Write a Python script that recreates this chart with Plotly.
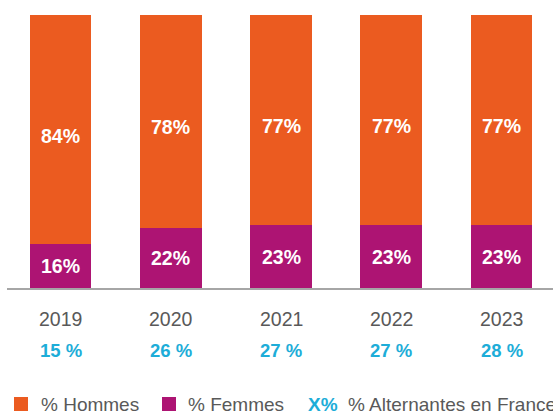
import plotly.graph_objects as go

years = ["2019", "2020", "2021", "2022", "2023"]
hommes = [84, 78, 77, 77, 77]
femmes = [16, 22, 23, 23, 23]
alternantes = [15, 26, 27, 27, 28]

ORANGE = "#EB5B20"
PURPLE = "#AD1473"
CYAN = "#1DADD8"
GRAY = "#595959"
FONT = "Liberation Sans, Arial, sans-serif"

fig = go.Figure()
fig.add_trace(go.Bar(x=years, y=femmes, marker_color=PURPLE, name="% Femmes",
                     marker_line_width=0, showlegend=False))
fig.add_trace(go.Bar(x=years, y=hommes, marker_color=ORANGE, name="% Hommes",
                     marker_line_width=0, showlegend=False))

ann = []
for i, (yr, h, f, a) in enumerate(zip(years, hommes, femmes, alternantes)):
    ann.append(dict(x=i, y=f / 2, text=f"<b>{f}%</b>", showarrow=False,
                    font=dict(family=FONT, size=19.5, color="white"),
                    xanchor="center", yanchor="middle"))
    ann.append(dict(x=i, y=f + h / 2, text=f"<b>{h}%</b>", showarrow=False,
                    font=dict(family=FONT, size=19.5, color="white"),
                    xanchor="center", yanchor="middle", yshift=-6))
    ann.append(dict(x=i, y=0, text=yr, showarrow=False,
                    font=dict(family=FONT, size=19.5, color=GRAY),
                    xanchor="center", yanchor="middle", yshift=-31))
    ann.append(dict(x=i, y=0, text=f"<b>{a} %</b>", showarrow=False,
                    font=dict(family=FONT, size=18.5, color=CYAN),
                    xanchor="center", yanchor="middle", yshift=-62))

# legend (drawn manually)
L, W, H0, PH = 7.0, 546.0, 288.0, 273.0
def px(x):
    return (x - L) / W
def py(y):
    return (H0 - y) / PH

shapes = [
    dict(type="rect", xref="paper", yref="paper", x0=px(14), x1=px(28), y0=py(411), y1=py(397),
         fillcolor=ORANGE, line_width=0),
    dict(type="rect", xref="paper", yref="paper", x0=px(162), x1=px(176), y0=py(411), y1=py(397),
         fillcolor=PURPLE, line_width=0),
]
legend_items = [
    (39, "% Hommes", GRAY),
    (186, "% Femmes", GRAY),
    (306, "<b>X%</b>", CYAN),
    (346, "% Alternantes en France", GRAY),
]
for x, t, c in legend_items:
    ann.append(dict(xref="paper", yref="paper", x=px(x), y=py(404.5), text=t, showarrow=False,
                    font=dict(family=FONT, size=19, color=c), xanchor="left", yanchor="middle"))

fig.update_layout(
    barmode="stack",
    bargap=0.44,
    width=553, height=414,
    margin=dict(l=7, r=0, t=15, b=126),
    paper_bgcolor="white", plot_bgcolor="white",
    xaxis=dict(type="category", range=[-0.486, 4.467], showticklabels=False, showgrid=False,
               zeroline=False, showline=True, linecolor="#A6A6A6", linewidth=1.5, ticks=""),
    yaxis=dict(range=[0, 100], visible=False),
    annotations=ann,
    shapes=shapes,
    showlegend=False,
)

fig.write_html("out.html", config={"displayModeBar": False},
               post_script="document.body.style.margin='0';document.body.style.overflow='hidden';")
